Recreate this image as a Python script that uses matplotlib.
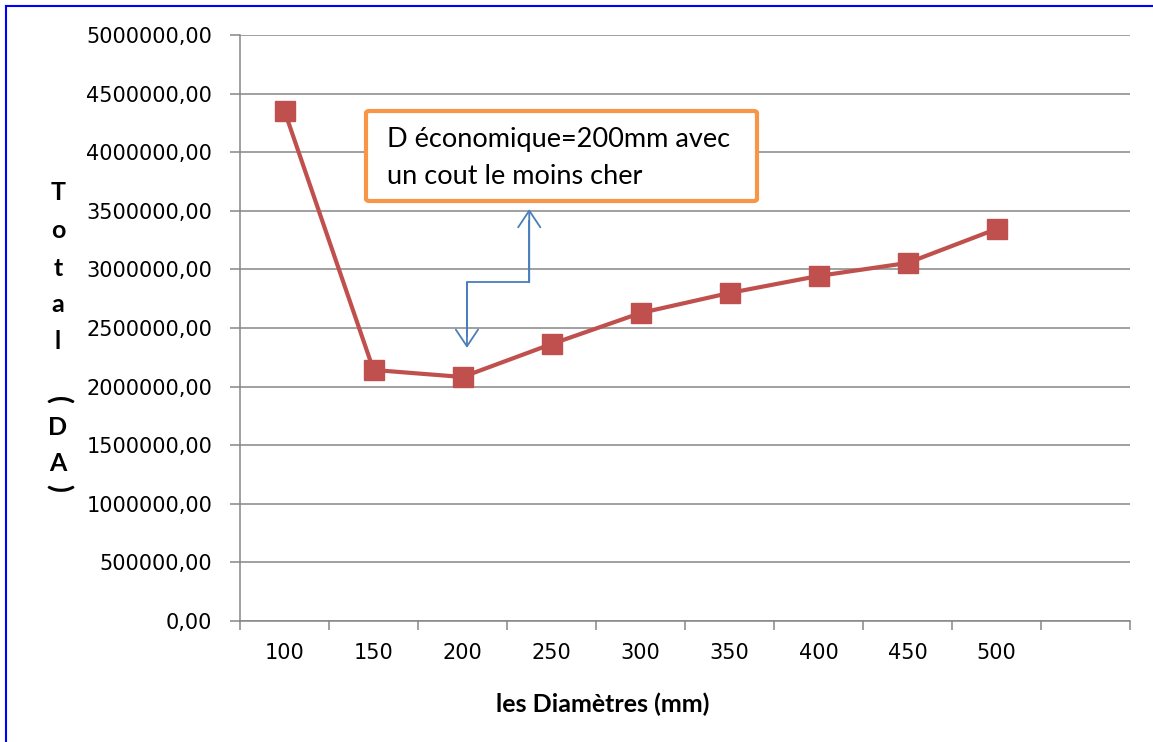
import numpy as np
import matplotlib.pyplot as plt
from matplotlib.patches import FancyBboxPatch
from matplotlib.lines import Line2D

# =============================
# Data
# =============================
diametres = ["100", "150", "200", "250", "300", "350", "400", "450", "500"]
cout_total = [4352000, 2142000, 2082000, 2363000, 2628000,
              2799000, 2944000, 3055000, 3345000]
y_ticks = np.arange(0, 5000001, 500000)
n_slots = 10  # category axis has one empty slot at the end

annot_lines = ["D économique=200mm avec", "un cout le moins cher"]
ylabel_chars = ["T", "o", "t", "a", "l", "(", "D", "A", ")"]

# =============================
# Figure / axes
# =============================
W, H = 1153, 742
fig = plt.figure(figsize=(W / 100, H / 100), dpi=100)
ax = fig.add_axes([240 / W, 1 - 621 / H, (1130 - 240) / W, (621 - 35) / H])

grey = "#868686"
red = "#C0504D"
x = np.arange(len(diametres))

ax.plot(x, cout_total, color=red, lw=3, marker="s", ms=14.5,
        mfc=red, mec=red, zorder=3)

ax.set_xlim(-0.5, n_slots - 0.5)
ax.set_ylim(0, 5000000)

# y axis
ax.set_yticks(y_ticks)
ax.set_yticklabels([f"{v:.2f}".replace(".", ",") for v in y_ticks],
                   fontsize=15, family="DejaVu Sans")
ax.tick_params(axis="y", length=7, width=1.1, color=grey, pad=13)
ax.grid(axis="y", color=grey, lw=1.1)
ax.set_axisbelow(True)

# x axis: ticks between categories, labels at centres
ax.set_xticks(np.arange(-0.5, n_slots, 1))
ax.set_xticklabels([])
ax.set_xticks(x, minor=True)
ax.set_xticklabels(diametres, minor=True, fontsize=15, family="DejaVu Sans")
ax.tick_params(axis="x", which="major", length=6.5, width=1.1, color=grey)
ax.tick_params(axis="x", which="minor", length=0, pad=16)

for s in ["top", "right"]:
    ax.spines[s].set_visible(False)
for s in ["left", "bottom"]:
    ax.spines[s].set_color(grey)
    ax.spines[s].set_linewidth(1.1)

# =============================
# Axis titles
# =============================
fig.text(603 / W, 1 - 704 / H, "les Diamètres (mm)", ha="center", va="center",
         fontsize=18, fontweight="bold", family="Lato")

ylabel_pos = [192, 230, 268, 305, 342, 400, 428, 463, 488]
for ch, py in zip(ylabel_chars, ylabel_pos):
    rot = -90 if ch in "()" else 0
    fs = 21 if ch in "()" else 18
    fig.text(58 / W, 1 - py / H, ch, ha="center", va="center", rotation=rot,
             fontsize=fs, fontweight="bold", family="Lato")

# =============================
# Annotation box + connector
# =============================
box = FancyBboxPatch((366 / W, 1 - 201 / H), 391 / W, 90 / H,
                     boxstyle="round,pad=0,rounding_size=0.003",
                     transform=fig.transFigure, fc="white", ec="#F79646",
                     lw=3, zorder=5)
fig.patches.append(box)
for line, py in zip(annot_lines, [140, 176]):
    fig.text(387 / W, 1 - py / H, line, ha="left", va="center",
             fontsize=19.5, family="Lato", zorder=6)

blue = "#4A7EBB"
xa, xb = 2.05, 2.75
y_low, y_mid, y_top = 2330000, 2890000, 3515000
ax.plot([xa, xa, xb, xb], [y_low + 100000, y_mid, y_mid, y_top - 100000],
        color=blue, lw=1.3, zorder=4)
arrow = dict(arrowstyle="->,head_length=0.6,head_width=0.4", color=blue,
             lw=1.3, mutation_scale=20, shrinkA=0, shrinkB=0)
ax.annotate("", xy=(xa, y_low), xytext=(xa, y_mid), arrowprops=arrow)
ax.annotate("", xy=(xb, y_top), xytext=(xb, y_mid), arrowprops=arrow)

# blue frame (top and left edges visible)
fig.add_artist(Line2D([6 / W, 1], [1 - 6 / H, 1 - 6 / H], color="#0000FF",
                      lw=1.5, transform=fig.transFigure))
fig.add_artist(Line2D([6 / W, 6 / W], [0, 1 - 6 / H], color="#0000FF",
                      lw=1.5, transform=fig.transFigure))

fig.savefig("out.png", dpi=100)
